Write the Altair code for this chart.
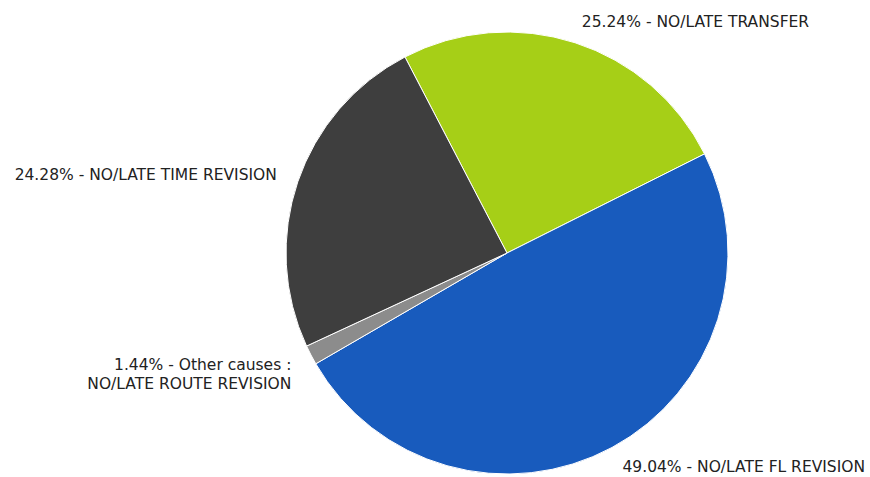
import altair as alt
import pandas as pd
import math

categories = ["NO/LATE TRANSFER", "NO/LATE FL REVISION", "Other causes :\nNO/LATE ROUTE REVISION", "NO/LATE TIME REVISION"]
shares = [25.24, 49.04, 1.44, 24.28]
colors = ["#a6cf17", "#185bbd", "#8c8c8c", "#3e3e3e"]

df = pd.DataFrame({"cat": categories, "share": shares, "order": list(range(len(categories)))})

start = math.radians(-27.5)
theta_scale = alt.Scale(domain=[0, 1], range=[start, start + 2 * math.pi])
color_scale = alt.Scale(domain=categories, range=colors)

R = 221

base = alt.Chart(df).transform_joinaggregate(
    total="sum(share)"
).transform_window(
    cum="sum(share)", sort=[alt.SortField("order")], frame=[None, 0]
).transform_calculate(
    t0="(datum.cum - datum.share) / datum.total",
    t1="datum.cum / datum.total",
    tm="(datum.cum - datum.share / 2) / datum.total",
    label="format(datum.share, '.2f') + '% - ' + datum.cat",
).transform_calculate(
    side="sin(" + str(start) + " + datum.tm * 2 * PI) >= 0 ? 'R' : 'L'"
)

arcs = base.mark_arc(radius=R, stroke="white", strokeWidth=1).encode(
    theta=alt.Theta("t0:Q", scale=theta_scale),
    theta2="t1:Q",
    color=alt.Color("cat:N", scale=color_scale, legend=None),
)

text_common = dict(radius=R * 1.1, font="DejaVu Sans", fontSize=15.5, color="#222222",
                   baseline="middle", lineBreak="\n", lineHeight=19)

labels_r = base.transform_filter("datum.side == 'R'").mark_text(align="left", **text_common).encode(
    theta=alt.Theta("tm:Q", scale=theta_scale),
    text="label:N",
)
labels_l = base.transform_filter("datum.side == 'L'").mark_text(align="right", **text_common).encode(
    theta=alt.Theta("tm:Q", scale=theta_scale),
    text="label:N",
)

chart = alt.layer(arcs, labels_r, labels_l).properties(
    width=726, height=448,
    autosize=alt.AutoSizeParams(type="none"),
    padding={"left": 144, "top": 29, "right": 0, "bottom": 0},
).configure_view(stroke=None).configure(background="white")

chart.save("out.html", embed_options={"renderer": "svg", "actions": False})
